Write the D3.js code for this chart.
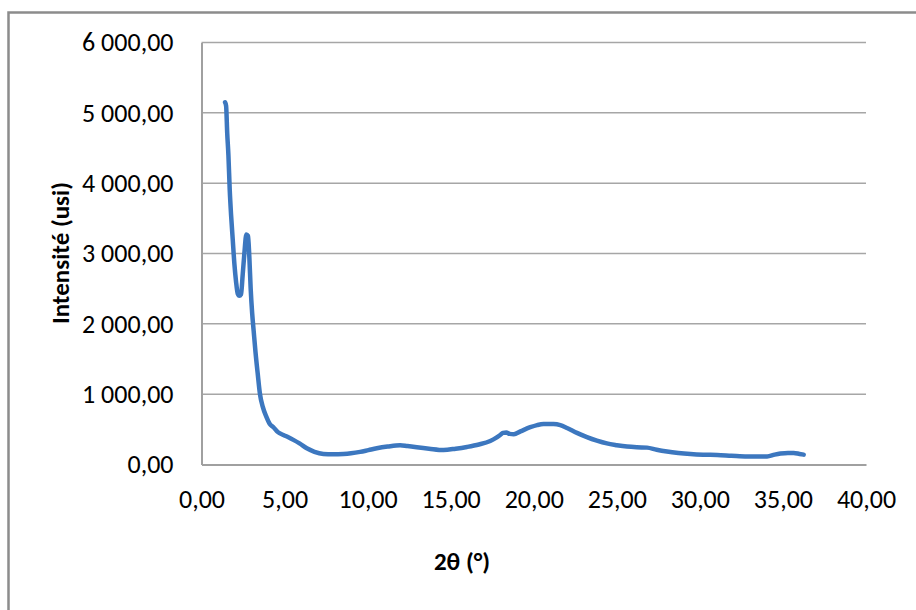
<!DOCTYPE html>
<html><head><meta charset="utf-8">
<script src="https://cdn.jsdelivr.net/npm/d3@7"></script>
<style>
html,body{margin:0;padding:0;background:#fff;}
svg{display:block;}
text{font-family:Carlito,Lato,"Open Sans",sans-serif;fill:#000;}
</style></head>
<body>
<svg id="c" width="916" height="610"></svg>
<script>
const twoTheta = [1.42,1.48,1.55,1.62,1.70,1.78,1.88,1.98,2.08,2.18,2.28,2.38,2.48,2.58,2.70,2.80,2.88,2.96,3.05,3.14,3.25,3.38,3.52,3.69,3.90,4.10,4.33,4.60,4.93,5.20,5.53,5.90,6.34,6.80,7.34,7.90,8.54,9.00,9.55,10.05,10.55,11.20,11.96,12.40,12.96,13.70,14.57,15.30,15.98,16.70,17.38,17.70,17.98,18.15,18.35,18.55,18.80,19.20,19.79,20.20,20.59,21.19,21.60,22.00,22.60,23.20,23.80,24.40,25.00,25.61,26.20,26.82,27.40,28.02,28.70,29.43,30.20,31.04,31.90,32.84,33.50,34.05,34.50,34.85,35.30,35.65,36.00,36.25];
const intensity = [5150,5100,4700,4400,3900,3550,3200,2850,2600,2430,2400,2420,2700,3000,3270,3250,2950,2500,2150,1900,1600,1300,1000,820,680,580,530,460,420,390,350,300,230,180,150,145,150,160,180,205,230,255,275,262,245,225,206,225,250,285,335,375,420,450,455,435,430,470,530,560,575,575,560,520,450,390,340,300,275,255,245,240,210,185,165,150,140,135,125,115,115,115,140,155,165,165,150,140];
const xTicks = [0,5,10,15,20,25,30,35,40];
const yTicks = [0,1000,2000,3000,4000,5000,6000];
const xTitle = "2θ (°)";
const yTitle = "Intensité (usi)";

const loc = d3.formatLocale({decimal:",",thousands:" ",grouping:[3],currency:["",""]});
const fmt = loc.format(",.2f");

const svg = d3.select("#c");
const x = d3.scaleLinear().domain([0,40]).range([201.5,866]);
const y = d3.scaleLinear().domain([0,6000]).range([464.5,42.5]);

// outer frame
svg.append("path").attr("d","M8.5,620 L8.5,12.5 L920,12.5").attr("fill","none")
  .attr("stroke","#8c8c8c").attr("stroke-width",2.5);

// gridlines
svg.append("g").selectAll("line").data(yTicks.filter(d=>d>0)).join("line")
  .attr("x1",x(0)).attr("x2",x(40)).attr("y1",d=>y(d)).attr("y2",d=>y(d))
  .attr("stroke","#a6a6a6").attr("stroke-width",1.5);

// axes
const gx = svg.append("g").attr("transform",`translate(0,${y(0)})`)
  .call(d3.axisBottom(x).tickValues(xTicks).tickFormat(fmt).tickSize(0).tickPadding(25));
gx.select(".domain").attr("stroke","#a0a0a0").attr("stroke-width",2);
gx.selectAll("text").style("font-size","26px");

const gy = svg.append("g").attr("transform",`translate(${x(0)},0)`)
  .call(d3.axisLeft(y).tickValues(yTicks).tickFormat(fmt).tickSize(0).tickPadding(28));
gy.select(".domain").attr("stroke","#a0a0a0").attr("stroke-width",2);
gy.selectAll("text").style("font-size","26px");

// line
const line = d3.line().x((d,i)=>x(twoTheta[i])).y(d=>y(d)).curve(d3.curveMonotoneX);
svg.append("path").datum(intensity).attr("d",line).attr("fill","none")
  .attr("stroke","#3c77bf").attr("stroke-width",4.5).attr("stroke-linejoin","round").attr("stroke-linecap","round");

// titles
svg.append("text").attr("x",462).attr("y",570).attr("text-anchor","middle")
  .style("font-size","25px").style("font-weight","bold").text(xTitle);
svg.append("text").attr("transform","translate(69,253) rotate(-90)").attr("text-anchor","middle")
  .style("font-size","25px").style("font-weight","bold").text(yTitle);
</script>
</body></html>
